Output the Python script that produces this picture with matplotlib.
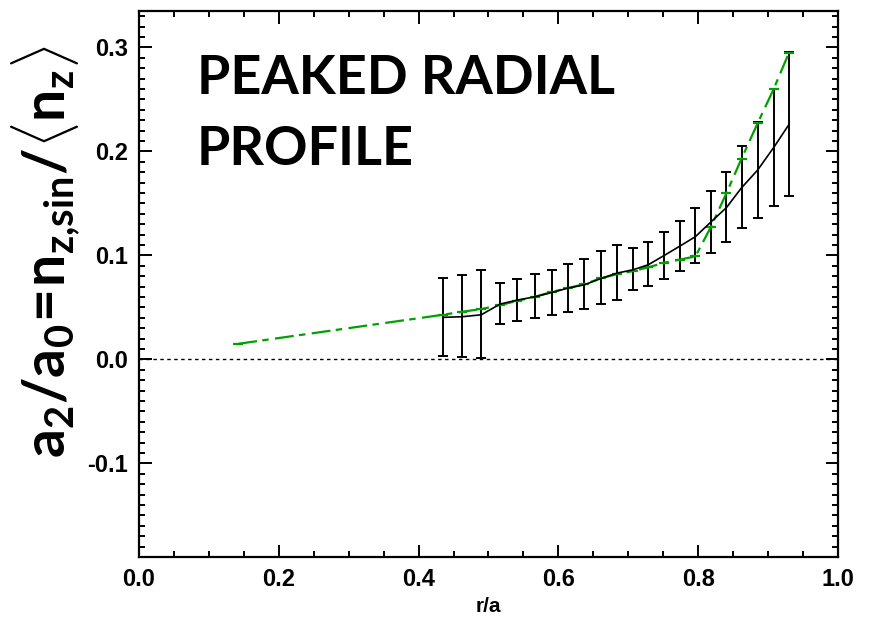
import numpy as np
import matplotlib
matplotlib.use("Agg")
import matplotlib.pyplot as plt
from matplotlib.ticker import MultipleLocator

# measured profile (black, with error bars)
r_meas = [0.4345, 0.462, 0.4897, 0.5165, 0.541, 0.5665, 0.591, 0.614, 0.637, 0.661, 0.684,
          0.707, 0.7286, 0.7515, 0.774, 0.796, 0.818, 0.8405, 0.862, 0.885, 0.908, 0.930]
a_meas = [0.0404, 0.041, 0.0429, 0.0532, 0.057, 0.0602, 0.0644, 0.0686, 0.0717, 0.0778, 0.083,
          0.0862, 0.091, 0.100, 0.109, 0.118, 0.132, 0.146, 0.165, 0.182, 0.2037, 0.226]
a_hi = [0.0785, 0.0814, 0.0855, 0.0738, 0.0776, 0.082, 0.0862, 0.092, 0.0964, 0.1044, 0.1099,
        0.1073, 0.1133, 0.1226, 0.1334, 0.1456, 0.162, 0.180, 0.205, 0.2286, 0.260, 0.2953]
a_lo = [0.003, 0.002, 0.001, 0.0345, 0.037, 0.040, 0.0425, 0.0457, 0.048, 0.0536, 0.0575,
        0.0667, 0.0702, 0.0773, 0.085, 0.0926, 0.102, 0.1127, 0.1264, 0.136, 0.1475, 0.1568]

# model profile (green)
r_mod = [0.142] + r_meas
a_mod = [0.015, 0.0429, 0.0458, 0.0484, 0.0522, 0.0563, 0.0602, 0.065, 0.0686, 0.0724, 0.078,
         0.082, 0.085, 0.0885, 0.093, 0.096, 0.099, 0.127, 0.160, 0.193, 0.227, 0.260, 0.295]

xtick_vals = [0.0, 0.2, 0.4, 0.6, 0.8, 1.0]
ytick_vals = [-0.1, 0.0, 0.1, 0.2, 0.3]

plt.rcParams['mathtext.fontset'] = 'custom'
plt.rcParams['mathtext.bf'] = 'Lato:bold'
plt.rcParams['mathtext.rm'] = 'Lato:bold'

fig = plt.figure(figsize=(8.77, 6.25), dpi=100)
ax = fig.add_axes([0.1585, 0.1088, 0.797, 0.8736])

green = '#00a000'
ax.axhline(0.0, color='black', lw=1.0, ls=(0, (2.5, 2.5)))

a_meas = np.array(a_meas)
yerr = [a_meas - np.array(a_lo), np.array(a_hi) - a_meas]
ax.errorbar(r_meas, a_meas, yerr=yerr, color='black', lw=1.2, elinewidth=1.4,
            capsize=3.6, capthick=1.4)
ax.plot(r_mod, a_mod, color=green, lw=1.6, ls=(0, (8.5, 2.4, 2.9, 2.9)),
        marker='_', markersize=7, markeredgewidth=1.6)

ax.set_xlim(0.0, 1.0)
ax.set_ylim(-0.19, 0.335)
ax.xaxis.set_minor_locator(MultipleLocator(0.05))
ax.yaxis.set_minor_locator(MultipleLocator(0.01))
ax.tick_params(which='both', direction='in', top=True, right=True, width=1.4)
ax.tick_params(which='major', length=9, pad=8)
ax.tick_params(which='minor', length=4.5)
for s in ax.spines.values():
    s.set_linewidth(1.6)

tfont = dict(family=['Liberation Sans'], weight='bold', size=17)
ax.set_xticks(xtick_vals)
ax.set_xticklabels(['%.1f' % v for v in xtick_vals], fontdict=tfont)
ax.set_yticks(ytick_vals)
ax.set_yticklabels(['%.1f' % v for v in ytick_vals], fontdict=tfont)

ax.set_xlabel('r/a', fontdict=dict(family=['Liberation Sans'], weight='bold', size=15),
              labelpad=4)
fig.text(46 / 877, 1 - 252 / 625,
         r'$\mathbf{a_2/a_0\!=\!n_{z{,}sin}/\langle n_z\rangle}$',
         rotation=90, fontsize=41, ha='center', va='center')

ax.text(0.083, 0.922, 'PEAKED RADIAL\nPROFILE', transform=ax.transAxes,
        family=['Lato', 'DejaVu Sans'], weight='bold', fontsize=38.8,
        ha='left', va='top', linespacing=1.55)

fig.savefig('out.png', dpi=100)
